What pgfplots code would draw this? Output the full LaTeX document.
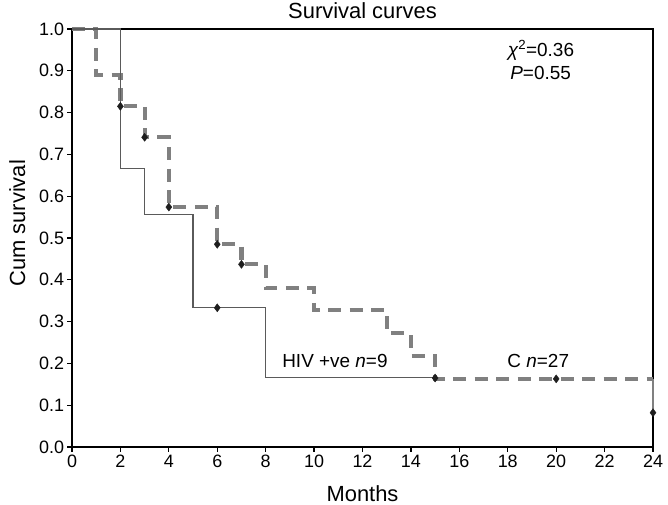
\documentclass[border=0pt]{standalone}
\usepackage{pgfplots}
\pgfplotsset{compat=1.18}
\usepackage{fontspec}
\setmainfont{Liberation Sans}
\definecolor{dgray}{RGB}{128,128,128}
\definecolor{sgray}{RGB}{90,90,90}
\definecolor{mk}{RGB}{30,30,30}
\begin{document}
\begin{tikzpicture}
\begin{axis}[
  scale only axis, width=581bp, height=418bp,
  xmin=0, xmax=24, ymin=0, ymax=1,
  clip=false,
  xtick={0,2,4,6,8,10,12,14,16,18,20,22,24},
  ytick={0,0.1,0.2,0.3,0.4,0.5,0.6,0.7,0.8,0.9,1.0},
  tick pos=left,
  tick align=outside,
  major tick length=4.5bp,
  tick style={black, line width=1.3bp},
  axis line style={black, line width=1.6bp},
  /pgf/number format/assume math mode=true,
  ticklabel style={font=\fontsize{18}{20}\selectfont},
  yticklabel style={/pgf/number format/.cd, fixed, fixed zerofill, precision=1},
  xticklabel style={/pgf/number format/.cd, fixed, precision=0},
  title={Survival curves},
  title style={at={(axis description cs:0.5,1)}, anchor=base, yshift=5bp, font=\fontsize{22}{26}\selectfont},
  xlabel={Months},
  xlabel style={at={(axis description cs:0.5,-0.111)}, anchor=center, font=\fontsize{22}{26}\selectfont},
  ylabel={Cum survival},
  ylabel style={at={(axis description cs:-0.094,0.535)}, anchor=center, rotate=0, font=\fontsize{22}{26}\selectfont},
]
% Control group (dashed)
\addplot[dgray, line width=4.2bp, dash pattern=on 13bp off 8.5bp, const plot] coordinates {
  (0,1.0) (1,0.889) (2,0.815) (3,0.741) (4,0.574) (6,0.485) (7,0.437) (8,0.380)
  (10,0.327) (13,0.272) (14,0.218) (15,0.163) (24,0.163)
};
\addplot[dgray, line width=1.5bp] coordinates {(24,0.163) (24,0.082)};
% HIV +ve group (solid)
\addplot[sgray, line width=1.3bp, const plot] coordinates {
  (0,1.0) (2,0.667) (3,0.556) (5,0.333) (8,0.167) (15,0.167)
};
% censor marks
\addplot[only marks, mark=diamond*, mark size=4bp, mk] coordinates {
  (2,0.815) (3,0.741) (4,0.574) (6,0.485) (7,0.437) (15,0.165) (20,0.163) (24,0.082) (6,0.333)
};
\node[anchor=base west, font=\fontsize{19}{22}\selectfont, inner sep=0pt] at (axis cs:18.0,0.935) {{\itshape χ}\textsuperscript{2}=0.36};
\node[anchor=base west, font=\fontsize{19}{22}\selectfont, inner sep=0pt] at (axis cs:18.1,0.878) {{\itshape P}=0.55};
\node[anchor=base west, font=\fontsize{19}{22}\selectfont, inner sep=0pt] at (axis cs:17.98,0.191) {C {\itshape n}=27};
\node[anchor=base west, font=\fontsize{19}{22}\selectfont, inner sep=0pt] at (axis cs:8.68,0.189) {HIV +ve {\itshape n}=9};
\coordinate (SW) at (rel axis cs:0,0);
\coordinate (NE) at (rel axis cs:1,1);
\end{axis}
\pgfresetboundingbox
\path ([xshift=-72bp,yshift=-58bp]SW) rectangle ([xshift=15bp,yshift=29bp]NE);
\end{tikzpicture}
\end{document}
